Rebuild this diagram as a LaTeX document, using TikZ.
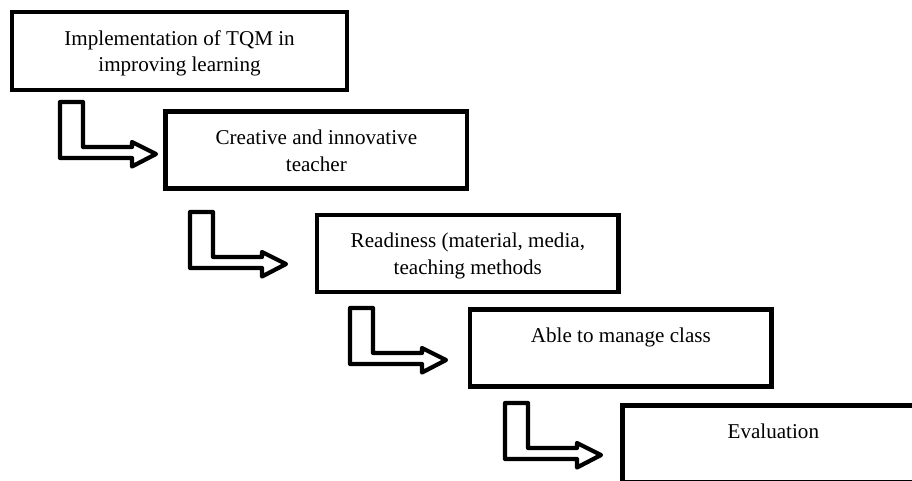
\documentclass[tikz,border=0pt]{standalone}
\usepackage{fontspec}
\setmainfont{Liberation Serif}
\usetikzlibrary{positioning}

\begin{document}
\begin{tikzpicture}[
        x=0.025cm, y=-0.025cm,
        stage/.style={draw, line width=3.2pt, rectangle, anchor=north west,
            inner sep=0pt, outer sep=0pt, minimum width=7.54cm, minimum height=1.925cm},
        wide/.style={minimum width=8.375cm, minimum height=1.95cm},
        caption/.style={align=center, inner sep=0pt, font=\fontsize{15}{19}\selectfont},
        arrowline/.style={draw, line width=3pt, line join=round},
        bent/.pic={
            \draw[arrowline] (0,0) -- (23,0) -- (23,45) -- (72,45) -- (72,40)
                -- (96,52) -- (72,64.5) -- (72,56) -- (0,56) -- cycle;
        },
    ]
    \clip (0,0) rectangle (912,480);

    % boxes
    \node[stage, wide](b1) at (12,12) {};
    \node[stage](b2) at (165.5,111.7) {};
    \node[stage](b3) at (317,215) {};
    \node[stage](b4) at (470,309.5) {};
    \node[stage](b5) at (622.5,405.5) {};

    % texts
    \node[caption, below=12.8pt of b1.north](t1) {Implementation of TQM in\\improving learning};
    \node[caption, below=12.8pt of b2.north](t2) {Creative and innovative\\teacher};
    \node[caption, below=12.8pt of b3.north](t3) {Readiness (material, media,\\teaching methods};
    \node[caption, below=12.8pt of b4.north](t4) {Able to manage class};
    \node[caption, below=12.8pt of b5.north](t5) {Evaluation};

    % bent arrows
    \pic at (60,102) {bent};
    \pic at (190,212) {bent};
    \pic at (350,308) {bent};
    \pic at (505,403) {bent};
\end{tikzpicture}
\end{document}
